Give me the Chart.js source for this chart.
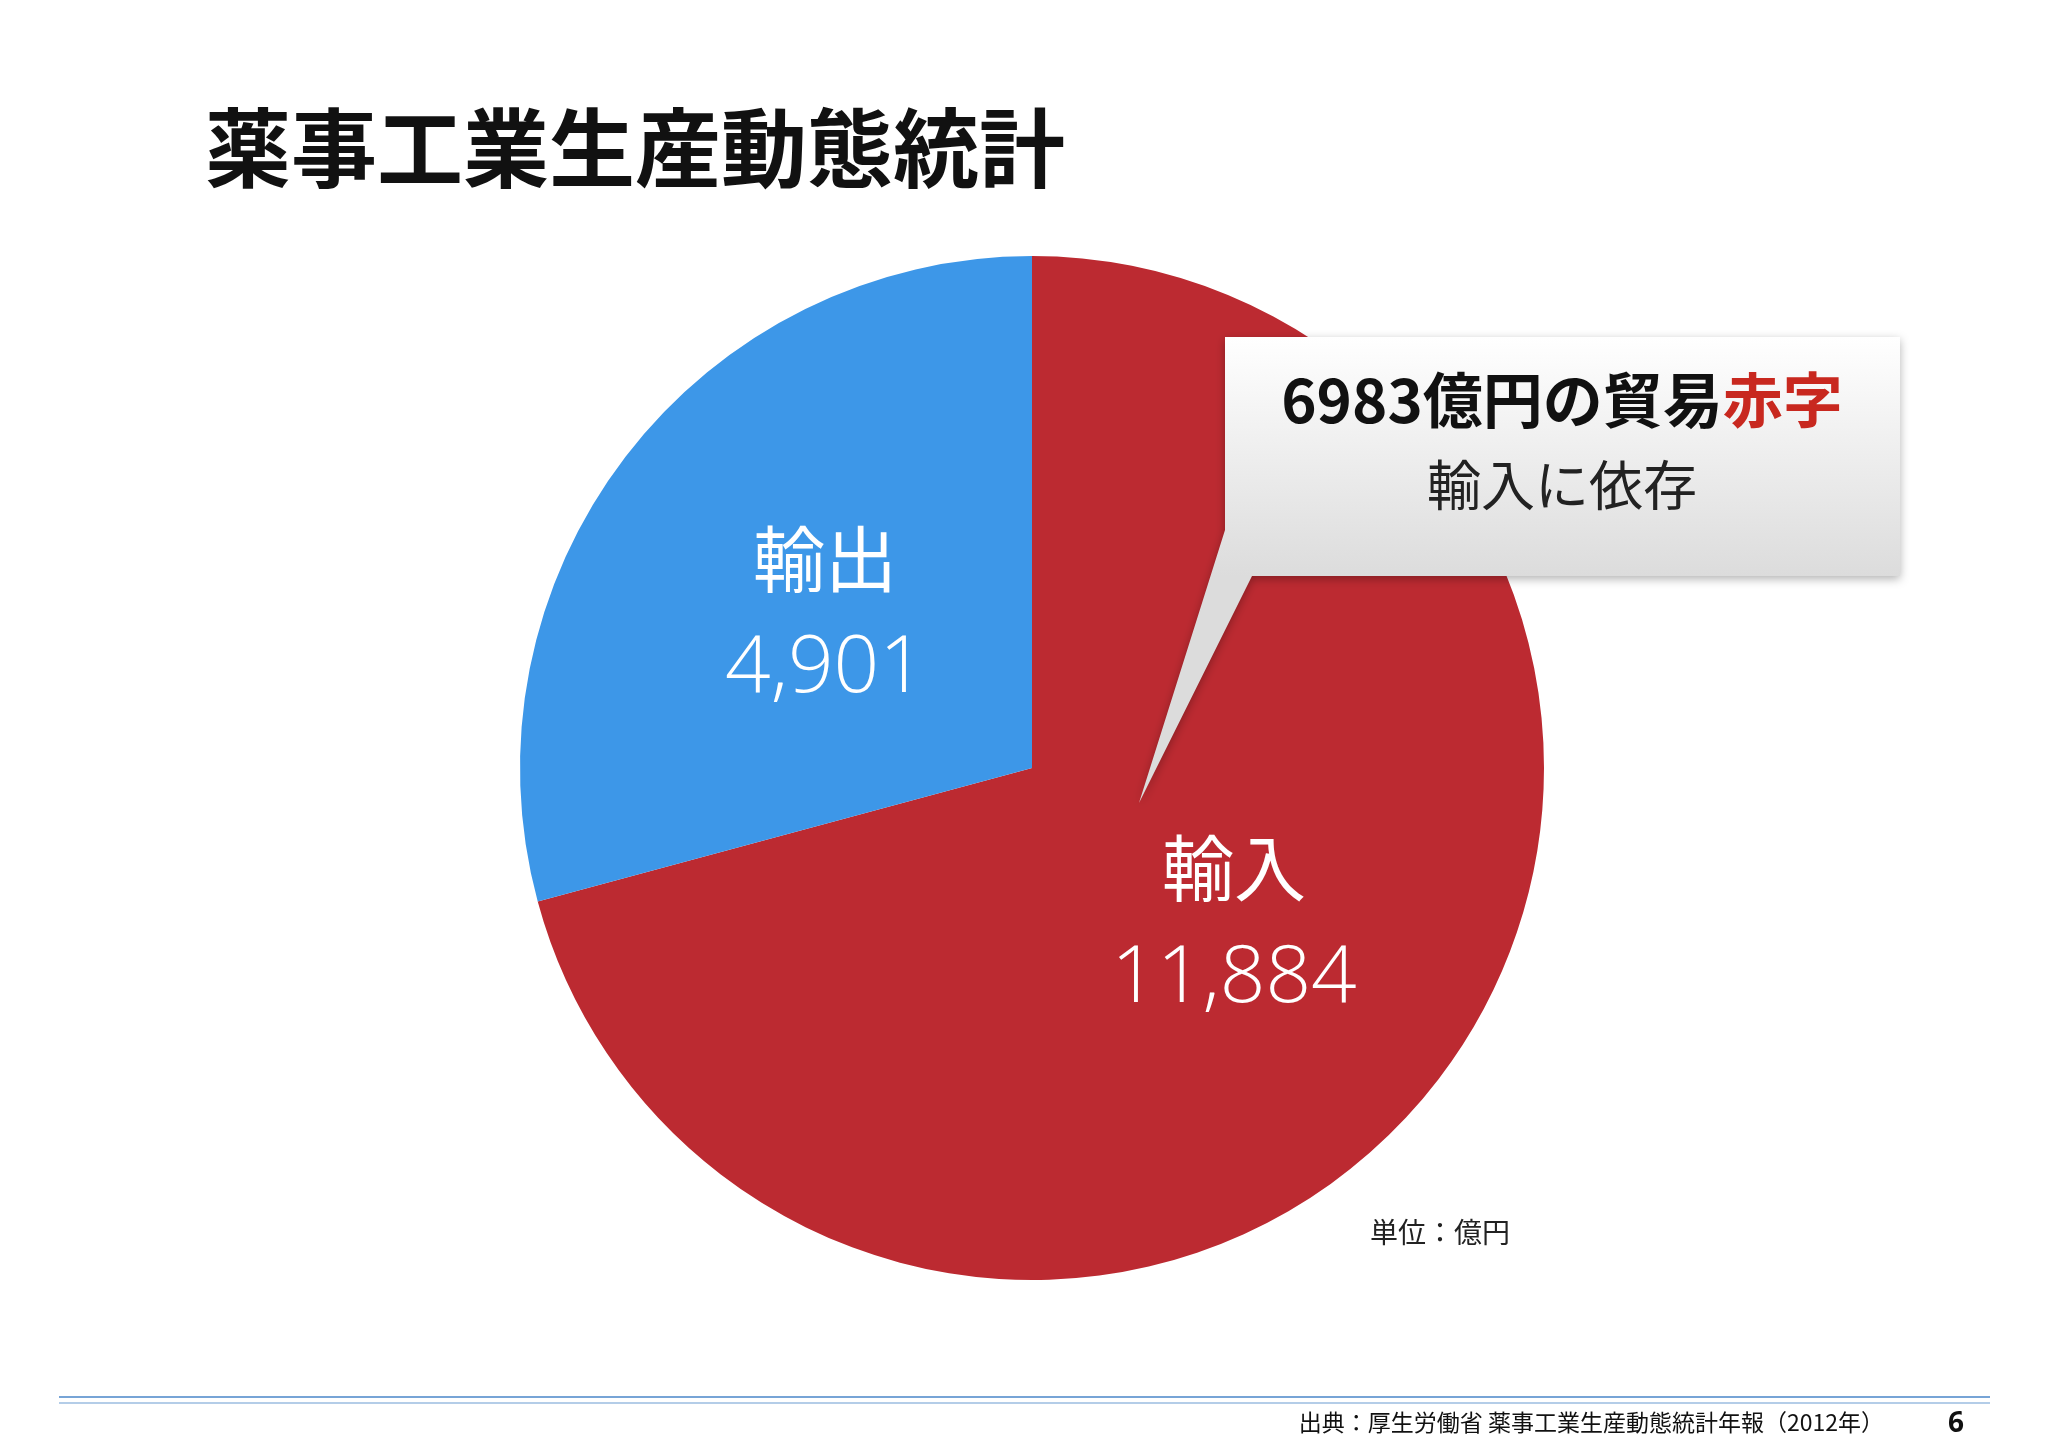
<!DOCTYPE html>
<html><head><meta charset="utf-8">
<script src="https://cdn.jsdelivr.net/npm/chart.js@4/dist/chart.umd.min.js"></script>
<style>html,body{margin:0;padding:0;background:#fff;}#wrap{width:2048px;height:1447px;position:relative;}</style>
</head><body><div id="wrap"><canvas id="c" width="2048" height="1447"></canvas></div>
<script>
const categories = ['輸入', '輸出'];
const values = [11884, 4901];
const colors = ['#bc2a31', '#3d97e8'];
const title = '薬事工業生産動態統計';
const unitText = '単位：億円';
const sourceText = '出典：厚生労働省 薬事工業生産動態統計年報（2012年）';
const pageNo = '6';
const JP = '"Noto Sans CJK JP", sans-serif';

const overlay = {
  id: 'overlay',
  afterDraw(chart) {
    const ctx = chart.ctx;
    ctx.save();
    // title
    ctx.fillStyle = '#111';
    ctx.font = 'bold 86px ' + JP;
    ctx.textBaseline = 'middle';
    ctx.textAlign = 'left';
    ctx.fillText(title, 205, 148);
    // slice labels from arc centers
    const meta = chart.getDatasetMeta(0);
    const fmt = v => v.toLocaleString('en-US');
    const offs = [{dx: 0, dy: 0}, {dx: 0, dy: 0}];
    const pos = [[1234, 868, 979], [825, 559, 669]];
    ctx.fillStyle = '#fff';
    ctx.textAlign = 'center';
    meta.data.forEach((a, i) => {
      ctx.font = '72px ' + JP;
      ctx.fillText(categories[i], pos[i][0], pos[i][1]);
      ctx.font = '300 80px "Open Sans", sans-serif';
      ctx.fillText(fmt(values[i]), pos[i][0], pos[i][2]);
    });
    // callout
    ctx.shadowColor = 'rgba(0,0,0,0.3)';
    ctx.shadowBlur = 10; ctx.shadowOffsetY = 3;
    const g = ctx.createLinearGradient(0, 337, 0, 576);
    g.addColorStop(0, '#ffffff'); g.addColorStop(1, '#dcdcdc');
    ctx.fillStyle = g;
    ctx.beginPath();
    ctx.moveTo(1225, 337); ctx.lineTo(1900, 337); ctx.lineTo(1900, 576);
    ctx.lineTo(1252, 576); ctx.lineTo(1139, 803); ctx.lineTo(1225, 530);
    ctx.closePath(); ctx.fill();
    ctx.shadowColor = 'transparent';
    ctx.textAlign = 'left';
    ctx.font = 'bold 60px ' + JP;
    const p1 = '6983億円の貿易', p2 = '赤字';
    const w1 = ctx.measureText(p1).width, w2 = ctx.measureText(p2).width;
    let x0 = 1562 - (w1 + w2) / 2;
    ctx.fillStyle = '#111'; ctx.fillText(p1, x0, 400);
    ctx.fillStyle = '#c8281f'; ctx.fillText(p2, x0 + w1, 400);
    ctx.textAlign = 'center';
    ctx.fillStyle = '#222';
    ctx.font = '54px ' + JP;
    ctx.fillText('輸入に依存', 1562, 485);
    // unit
    ctx.font = '28px ' + JP;
    ctx.fillText(unitText, 1440, 1232);
    // footer
    ctx.strokeStyle = '#4a86c8'; ctx.lineWidth = 1.5;
    ctx.beginPath(); ctx.moveTo(59, 1397); ctx.lineTo(1990, 1397); ctx.stroke();
    ctx.strokeStyle = '#9bbde0';
    ctx.beginPath(); ctx.moveTo(59, 1403); ctx.lineTo(1990, 1403); ctx.stroke();
    ctx.fillStyle = '#111';
    ctx.textAlign = 'right';
    ctx.font = '23px ' + JP;
    ctx.fillText(sourceText, 1884, 1422);
    ctx.textAlign = 'center';
    ctx.font = 'bold 28px "Open Sans", sans-serif';
    ctx.fillText(pageNo, 1956, 1424);
    ctx.restore();
  }
};

new Chart(document.getElementById('c'), {
  type: 'pie',
  data: { labels: categories, datasets: [{ data: values, backgroundColor: colors, borderWidth: 0 }] },
  options: {
    responsive: false, animation: false,
    layout: { padding: { left: 520, right: 504, top: 256, bottom: 167 } },
    plugins: { legend: { display: false }, tooltip: { enabled: false } }
  },
  plugins: [overlay]
});
</script></body></html>
